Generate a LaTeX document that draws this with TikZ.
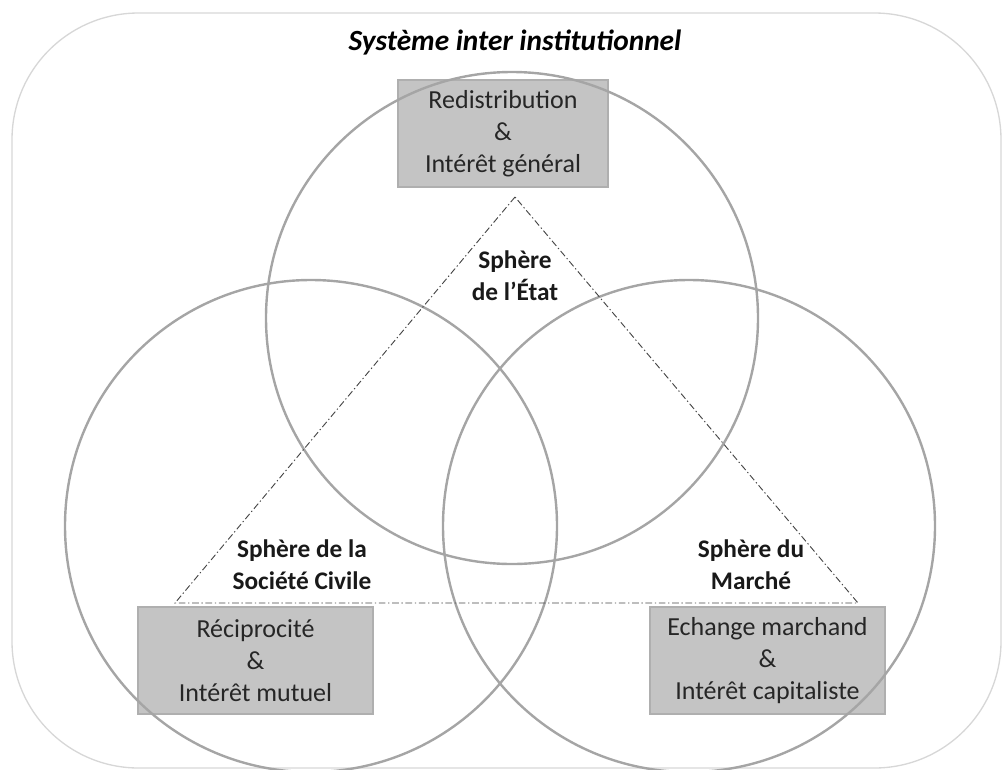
\documentclass[tikz,border=0pt]{standalone}
\usepackage{fontspec}
\setmainfont{Carlito}
\definecolor{circ}{RGB}{165,165,165}
\definecolor{outer}{RGB}{215,215,215}
\definecolor{boxfill}{RGB}{196,196,196}
\definecolor{boxdraw}{RGB}{175,175,175}
\definecolor{tri}{RGB}{70,70,70}
\tikzset{
  valuebox/.style={draw=boxdraw, line width=0.8pt, fill=boxfill, inner sep=0pt, align=center,
    font=\fontsize{19.5}{24}\selectfont, text=black!85},
  sphere/.style={draw=circ, line width=1.8pt},
  spherelabel/.style={align=center, font=\fontsize{19}{24}\selectfont\bfseries, text=black!90},
  trianglestyle/.style={draw=tri, line width=0.7pt, dash pattern=on 5pt off 2pt on 1pt off 2pt}
}
\begin{document}
\begin{tikzpicture}[x=0.75pt,y=-0.75pt]
\useasboundingbox (0,0) rectangle (1007,769);
% outer rounded frame
\draw[outer, line width=1pt, rounded corners=95pt] (12,13) rectangle (1001,768);
\node[font=\fontsize{22}{26}\selectfont\bfseries\itshape] (title) at (515,42) {Système inter institutionnel};
% boxes
\node[valuebox, minimum width=210*0.75pt, minimum height=107*0.75pt] (redis) at (503,133.5) {Redistribution\\\&\\Intérêt général};
\node[valuebox, minimum width=235*0.75pt, minimum height=107*0.75pt] (recip) at (255.5,660.5) {Réciprocité\\\&\\Intérêt mutuel};
\node[valuebox, minimum width=235*0.75pt, minimum height=107*0.75pt] (echange) at (767.5,660.5) {Echange marchand\\\&\\Intérêt capitaliste};
% circles
\node[sphere, circle, minimum size=492*0.75pt, inner sep=0pt] (etat) at (512,318) {};
\node[sphere, circle, minimum size=492*0.75pt, inner sep=0pt] (civile) at (311,526) {};
\node[sphere, circle, minimum size=492*0.75pt, inner sep=0pt] (marche) at (689,526) {};
% triangle
\coordinate (apex) at (515,197);
\coordinate (bl) at (175,603);
\coordinate (br) at (858,603);
\draw[trianglestyle] (apex) -- (bl) -- (br) -- cycle;
% labels
\node[spherelabel] (letat) at (515,276) {Sphère\\de l’État};
\node[spherelabel] (lcivile) at (302,565) {Sphère de la\\Société Civile};
\node[spherelabel] (lmarche) at (751,565) {Sphère du\\Marché};
\end{tikzpicture}
\end{document}
